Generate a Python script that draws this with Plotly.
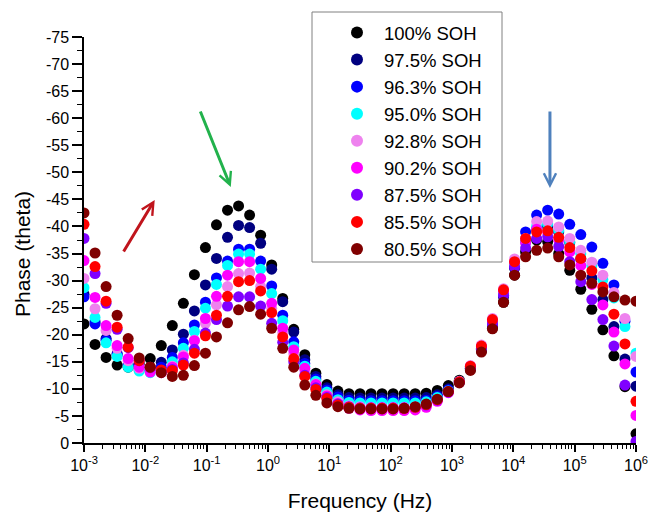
import plotly.graph_objects as go

# Impedance sweep frequencies (Hz), low to high
freq = [0.001, 0.001514, 0.002291, 0.003467, 0.005248, 0.007943, 0.01202, 0.0182,
        0.02754, 0.04169, 0.0631, 0.0955, 0.1445, 0.2188, 0.3311, 0.5012, 0.7586,
        1.148, 1.738, 2.63, 3.981, 6.026, 9.12, 13.8, 20.89, 31.62, 47.86, 72.44,
        109.6, 166.0, 251.2, 380.2, 575.4, 871.0, 1318, 1995, 3020, 4571, 6918,
        10471, 15849, 23988, 36308, 54954, 83176, 125893, 190546, 288403, 436516,
        660693, 1000000]

soh_100 = [-22.0, -18.2, -15.8, -14.4, -14.0, -14.6, -15.6, -18.0, -21.7, -25.8, -31.1,
           -36.1, -40.3, -43.0, -43.8, -42.1, -38.4, -32.9, -26.7, -21.0, -16.3, -12.9,
           -10.8, -9.6, -9.1, -9.1, -9.1, -9.1, -9.1, -9.1, -9.1, -9.2, -9.7, -10.6, -11.6,
           -13.6, -17.0, -21.2, -26.0, -31.0,
           -35.3, -37.5, -37.2, -35.0, -31.9, -28.4, -24.7, -20.9, -16.1, -10.4, -1.7]
soh_975 = [-27.5, -22.4, -19.3, -16.5, -14.5, -13.8, -14.0, -14.9, -17.2, -20.1, -24.4,
           -29.2, -34.1, -38.0, -40.2, -39.8, -36.9, -32.1, -26.1, -20.5, -15.4, -12.3,
           -10.2, -8.9, -8.4, -8.3, -8.3, -8.3, -8.3, -8.3, -8.3, -8.4, -8.9, -10.0, -11.4,
           -13.8, -17.3, -21.8, -27.0, -32.3,
           -37.3, -39.5, -40.0, -39.0, -37.0, -34.0, -30.5, -26.5, -21.5, -15.5, -10.5]
soh_963 = [-27.0, -22.0, -19.0, -16.3, -14.3, -13.5, -13.4, -14.0, -15.8, -18.5, -21.8,
           -26.0, -30.5, -33.6, -35.8, -35.8, -33.6, -29.0, -23.6, -18.7, -14.7, -11.8,
           -9.8, -8.5, -7.9, -7.8, -7.8, -7.8, -7.8, -7.8, -7.8, -7.9, -8.6, -9.8, -11.3,
           -13.8, -17.4, -22.0, -27.3, -32.6,
           -39.0, -42.1, -43.0, -42.3, -40.4, -38.5, -36.2, -33.2, -29.2, -22.5, -13.1]
soh_950 = [-28.7, -23.2, -18.5, -16.0, -14.0, -13.3, -13.0, -13.4, -15.0, -17.5, -20.6,
           -24.9, -29.3, -32.8, -34.9, -34.9, -32.1, -27.6, -22.6, -17.8, -14.2, -11.4,
           -9.4, -8.0, -7.5, -7.4, -7.4, -7.4, -7.4, -7.4, -7.4, -7.6, -8.4, -9.6, -11.3,
           -13.9, -17.5, -22.2, -27.6, -33.0,
           -37.2, -40.0, -40.5, -39.3, -37.2, -35.0, -32.8, -30.2, -26.8, -21.5, -16.6]
soh_928 = [-30.4, -24.8, -20.8, -17.5, -15.2, -13.8, -13.2, -13.2, -14.2, -16.2, -19.0,
           -22.1, -25.5, -28.9, -31.3, -31.4, -28.9, -24.9, -20.4, -16.5, -13.4, -10.9,
           -8.9, -7.6, -6.9, -6.7, -6.6, -6.6, -6.6, -6.6, -6.7, -7.0, -8.0, -9.5, -11.4,
           -14.3, -18.1, -23.0, -28.5, -34.0,
           -37.8, -40.9, -41.0, -39.9, -37.8, -35.6, -33.4, -31.0, -27.8, -23.0, -16.0]
soh_902 = [-33.7, -26.9, -21.7, -18.0, -15.6, -14.0, -13.1, -13.0, -14.0, -15.9, -18.9,
           -23.0, -27.1, -31.0, -33.5, -33.5, -30.4, -25.8, -21.2, -17.2, -13.8, -10.8,
           -8.7, -7.3, -6.4, -6.1, -6.0, -6.0, -6.0, -6.0, -6.1, -6.6, -7.7, -9.3, -11.2,
           -14.1, -17.8, -22.6, -28.0, -33.3,
           -37.0, -39.5, -39.0, -37.5, -35.3, -32.8, -29.3, -25.5, -20.5, -14.6, -5.1]
soh_875 = [-37.8, -31.3, -25.8, -21.0, -17.6, -15.2, -13.9, -13.4, -13.6, -14.8, -17.3,
           -20.3, -22.8, -25.3, -27.0, -27.0, -25.3, -22.1, -18.6, -15.0, -12.5, -10.2,
           -8.4, -7.2, -6.7, -6.5, -6.5, -6.5, -6.5, -6.5, -6.6, -7.0, -7.9, -9.4, -11.2,
           -13.9, -17.4, -22.0, -27.3, -32.5,
           -36.0, -37.8, -38.1, -36.3, -33.5, -29.8, -26.5, -22.8, -17.9, -10.7, -0.3]
soh_855 = [-40.4, -32.6, -26.2, -21.4, -17.7, -15.2, -14.0, -13.5, -13.4, -14.4, -16.6,
           -19.8, -23.6, -27.1, -29.8, -30.0, -28.1, -24.1, -19.6, -15.6, -12.3, -9.9,
           -8.2, -7.0, -6.6, -6.4, -6.4, -6.4, -6.4, -6.4, -6.6, -7.1, -8.0, -9.5, -11.3,
           -14.2, -17.9, -22.8, -28.3, -33.5,
           -37.8, -39.0, -39.2, -38.0, -36.1, -34.1, -31.8, -28.8, -23.8, -18.3, -7.7]
soh_805 = [-42.5, -35.1, -28.9, -23.6, -19.3, -15.7, -14.0, -13.0, -12.3, -12.5, -14.3,
           -16.6, -19.6, -22.2, -24.6, -25.2, -23.8, -21.2, -17.5, -14.0, -10.7, -8.8,
           -7.4, -6.7, -6.4, -6.3, -6.3, -6.3, -6.3, -6.4, -6.7, -7.2, -8.1, -9.5, -11.1,
           -13.4, -16.8, -21.1, -26.0, -31.0,
           -34.4, -35.6, -36.0, -34.4, -32.9, -31.0, -29.5, -27.9, -27.0, -26.4, -26.2]

series_names = ["100% SOH", "97.5% SOH", "96.3% SOH", "95.0% SOH", "92.8% SOH",
                "90.2% SOH", "87.5% SOH", "85.5% SOH", "80.5% SOH"]
series_values = [soh_100, soh_975, soh_963, soh_950, soh_928,
                 soh_902, soh_875, soh_855, soh_805]
series_colors = ["#000000", "#000080", "#0000FF", "#00FFFF", "#EE82EE",
                 "#FF00FF", "#8000FF", "#FF0000", "#800000"]

x_tick_vals = [1e-3, 1e-2, 1e-1, 1e0, 1e1, 1e2, 1e3, 1e4, 1e5, 1e6]
x_tick_text = ["10<sup>-3</sup>", "10<sup>-2</sup>", "10<sup>-1</sup>", "10<sup>0</sup>",
               "10<sup>1</sup>", "10<sup>2</sup>", "10<sup>3</sup>", "10<sup>4</sup>",
               "10<sup>5</sup>", "10<sup>6</sup>"]
y_tick_vals = [0, -5, -10, -15, -20, -25, -30, -35, -40, -45, -50, -55, -60, -65, -70, -75]
y_tick_text = [str(v) for v in y_tick_vals]

FONT = "Liberation Sans, Arial, sans-serif"

fig = go.Figure()
for name, vals, color in zip(series_names, series_values, series_colors):
    fig.add_trace(go.Scatter(
        x=freq, y=vals, name=name, mode="markers",
        marker=dict(size=11, color=color, line=dict(width=0)),
    ))

L, R, T, B = 84, 14, 37, 69
W, H = 650, 512
pw, ph = W - L - R, H - T - B

def px_x(p):
    return (p - L) / pw

def px_y(p):
    return (H - B - p) / ph

# Arrows pointing at the features of the spectra (head position, tail offset in px)
arrows = [
    dict(x=-1.847, y=-44.9, ax=-32, ay=53, color="#C0141C"),
    dict(x=-0.607, y=-47.3, ax=-31, ay=-77, color="#22B24C"),
    dict(x=4.597, y=-47.1, ax=0, ay=-78, color="#4F81BD"),
]
annotations = [
    dict(x=a["x"], y=a["y"], xref="x", yref="y", ax=a["ax"], ay=a["ay"],
         text="", showarrow=True, arrowhead=5, arrowsize=0.8, arrowwidth=3,
         arrowcolor=a["color"], standoff=0)
    for a in arrows
]
# Vertical axis title
annotations.append(dict(
    text="Phase (theta)", textangle=-90, showarrow=False,
    xref="paper", yref="paper", x=px_x(22), y=px_y(254),
    xanchor="center", yanchor="middle",
    font=dict(family=FONT, size=21, color="black"),
))

fig.update_layout(
    width=W, height=H,
    margin=dict(l=L, r=R, t=T, b=B, pad=0),
    paper_bgcolor="white", plot_bgcolor="white",
    font=dict(family=FONT, color="black", size=16),
    showlegend=True,
    legend=dict(
        x=px_x(330), y=px_y(14), xanchor="left", yanchor="top",
        bgcolor="rgba(0,0,0,0)", borderwidth=0,
        font=dict(family=FONT, size=18.5, color="black"),
        itemwidth=44, itemsizing="constant",
    ),
    shapes=[dict(type="rect", xref="paper", yref="paper",
                 x0=px_x(312), x1=px_x(502), y0=px_y(262), y1=px_y(12),
                 line=dict(color="#808080", width=1), fillcolor="rgba(0,0,0,0)")],
    annotations=annotations,
    xaxis=dict(
        type="log", range=[-3, 6], automargin=False,
        tickmode="array", tickvals=x_tick_vals, ticktext=x_tick_text,
        ticks="outside", ticklen=7, tickwidth=1.5, tickcolor="black",
        minor=dict(ticks="outside", ticklen=4, tickwidth=1, tickcolor="black", dtick="D1"),
        showline=True, linecolor="black", linewidth=1.5,
        showgrid=False, zeroline=False,
        tickfont=dict(size=16),
        title=dict(text="Frequency (Hz)", font=dict(size=21), standoff=20),
    ),
    yaxis=dict(
        range=[0, -75], automargin=False,
        tickmode="array", tickvals=y_tick_vals, ticktext=y_tick_text,
        ticks="outside", ticklen=10, tickwidth=1.5, tickcolor="black",
        minor=dict(ticks="outside", ticklen=5, tickwidth=1, tickcolor="black",
                   tickmode="linear", tick0=0, dtick=2.5),
        showline=True, linecolor="black", linewidth=1.5,
        showgrid=False, zeroline=False,
        tickfont=dict(size=16),
    ),
)

fig.write_html("out.html")
